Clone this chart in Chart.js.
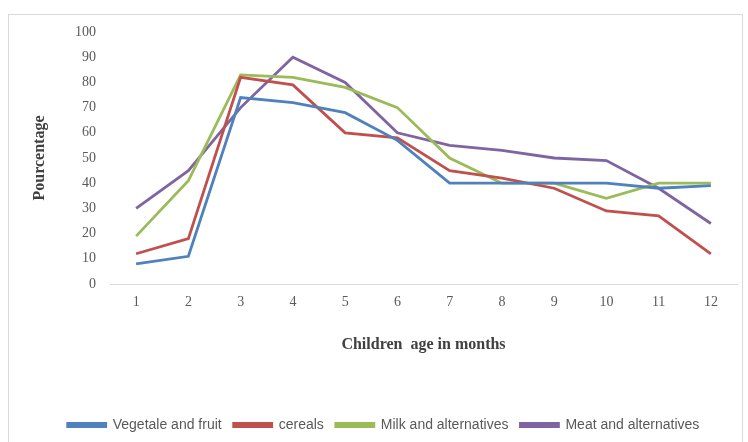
<!DOCTYPE html>
<html>
<head>
<meta charset="utf-8">
<script src="https://cdn.jsdelivr.net/npm/chart.js@4"></script>
<style>
    html, body { margin: 0; padding: 0; background: #fff; }
    #frame {
        position: absolute; left: 8px; top: 14px; width: 735px; height: 440px;
        border: 1px solid #d9d9d9; box-sizing: border-box;
    }
    #wrap { position: absolute; left: 0; top: 0; width: 748px; height: 442px; }
</style>
</head>
<body>
<div id="frame"></div>
<div id="wrap"><canvas id="lineChart" width="748" height="442"></canvas></div>
<script>
const months = ['1', '2', '3', '4', '5', '6', '7', '8', '9', '10', '11', '12'];
const vegetaleFruit = [8, 11, 74, 72, 68, 57, 40, 40, 40, 40, 38, 39];
const cereals = [12, 18, 82, 79, 60, 58, 45, 42, 38, 29, 27, 12];
const milkAlternatives = [19, 41, 83, 82, 78, 70, 50, 40, 40, 34, 40, 40];
const meatAlternatives = [30, 45, 70, 90, 80, 60, 55, 53, 50, 49, 38, 24];
const seriesNames = ['Vegetale and fruit', 'cereals', 'Milk and alternatives', 'Meat and alternatives'];
const seriesColors = ['#4F81BD', '#C0504D', '#9BBB59', '#8064A2'];

const seriesData = [vegetaleFruit, cereals, milkAlternatives, meatAlternatives];

function makeDataset(i) {
    return {
        label: seriesNames[i],
        data: seriesData[i],
        borderColor: seriesColors[i],
        backgroundColor: seriesColors[i],
        borderWidth: 2.8,
        pointRadius: 0,
        tension: 0,
        fill: false
    };
}

const ctx = document.getElementById('lineChart').getContext('2d');
new Chart(ctx, {
    type: 'line',
    data: {
        labels: months,
        datasets: [makeDataset(0), makeDataset(1), makeDataset(2), makeDataset(3)]
    },
    options: {
        responsive: false,
        animation: false,
        layout: { padding: { top: 32, right: 11, left: 30, bottom: 0 } },
        plugins: {
            tooltip: { enabled: false },
            legend: {
                position: 'bottom',
                labels: {
                    boxWidth: 38,
                    boxHeight: 3,
                    padding: 12,
                    color: '#595959',
                    font: { family: "'Liberation Sans', sans-serif", size: 14 }
                }
            }
        },
        scales: {
            x: {
                offset: true,
                grid: { display: false, drawTicks: false },
                border: { color: '#d9d9d9', width: 1 },
                ticks: {
                    color: '#595959',
                    padding: 10,
                    font: { family: "'Liberation Serif', serif", size: 14 }
                },
                title: {
                    display: true,
                    text: 'Children  age in months',
                    color: '#404040',
                    padding: { top: 0, bottom: 52 },
                    font: { family: "'Liberation Serif', serif", size: 16, weight: 'bold' }
                },
                afterFit: (scale) => { scale.height = 122; }
            },
            y: {
                min: 0,
                max: 100,
                grid: { display: false, drawTicks: false },
                border: { display: false },
                ticks: {
                    stepSize: 10,
                    color: '#595959',
                    padding: 14,
                    font: { family: "'Liberation Serif', serif", size: 14 }
                },
                title: {
                    display: true,
                    text: 'Pourcentage',
                    color: '#404040',
                    padding: { top: 0, bottom: 20 },
                    font: { family: "'Liberation Serif', serif", size: 16, weight: 'bold' }
                },
                afterFit: (scale) => { scale.width = 80; }
            }
        }
    }
});
</script>
</body>
</html>
